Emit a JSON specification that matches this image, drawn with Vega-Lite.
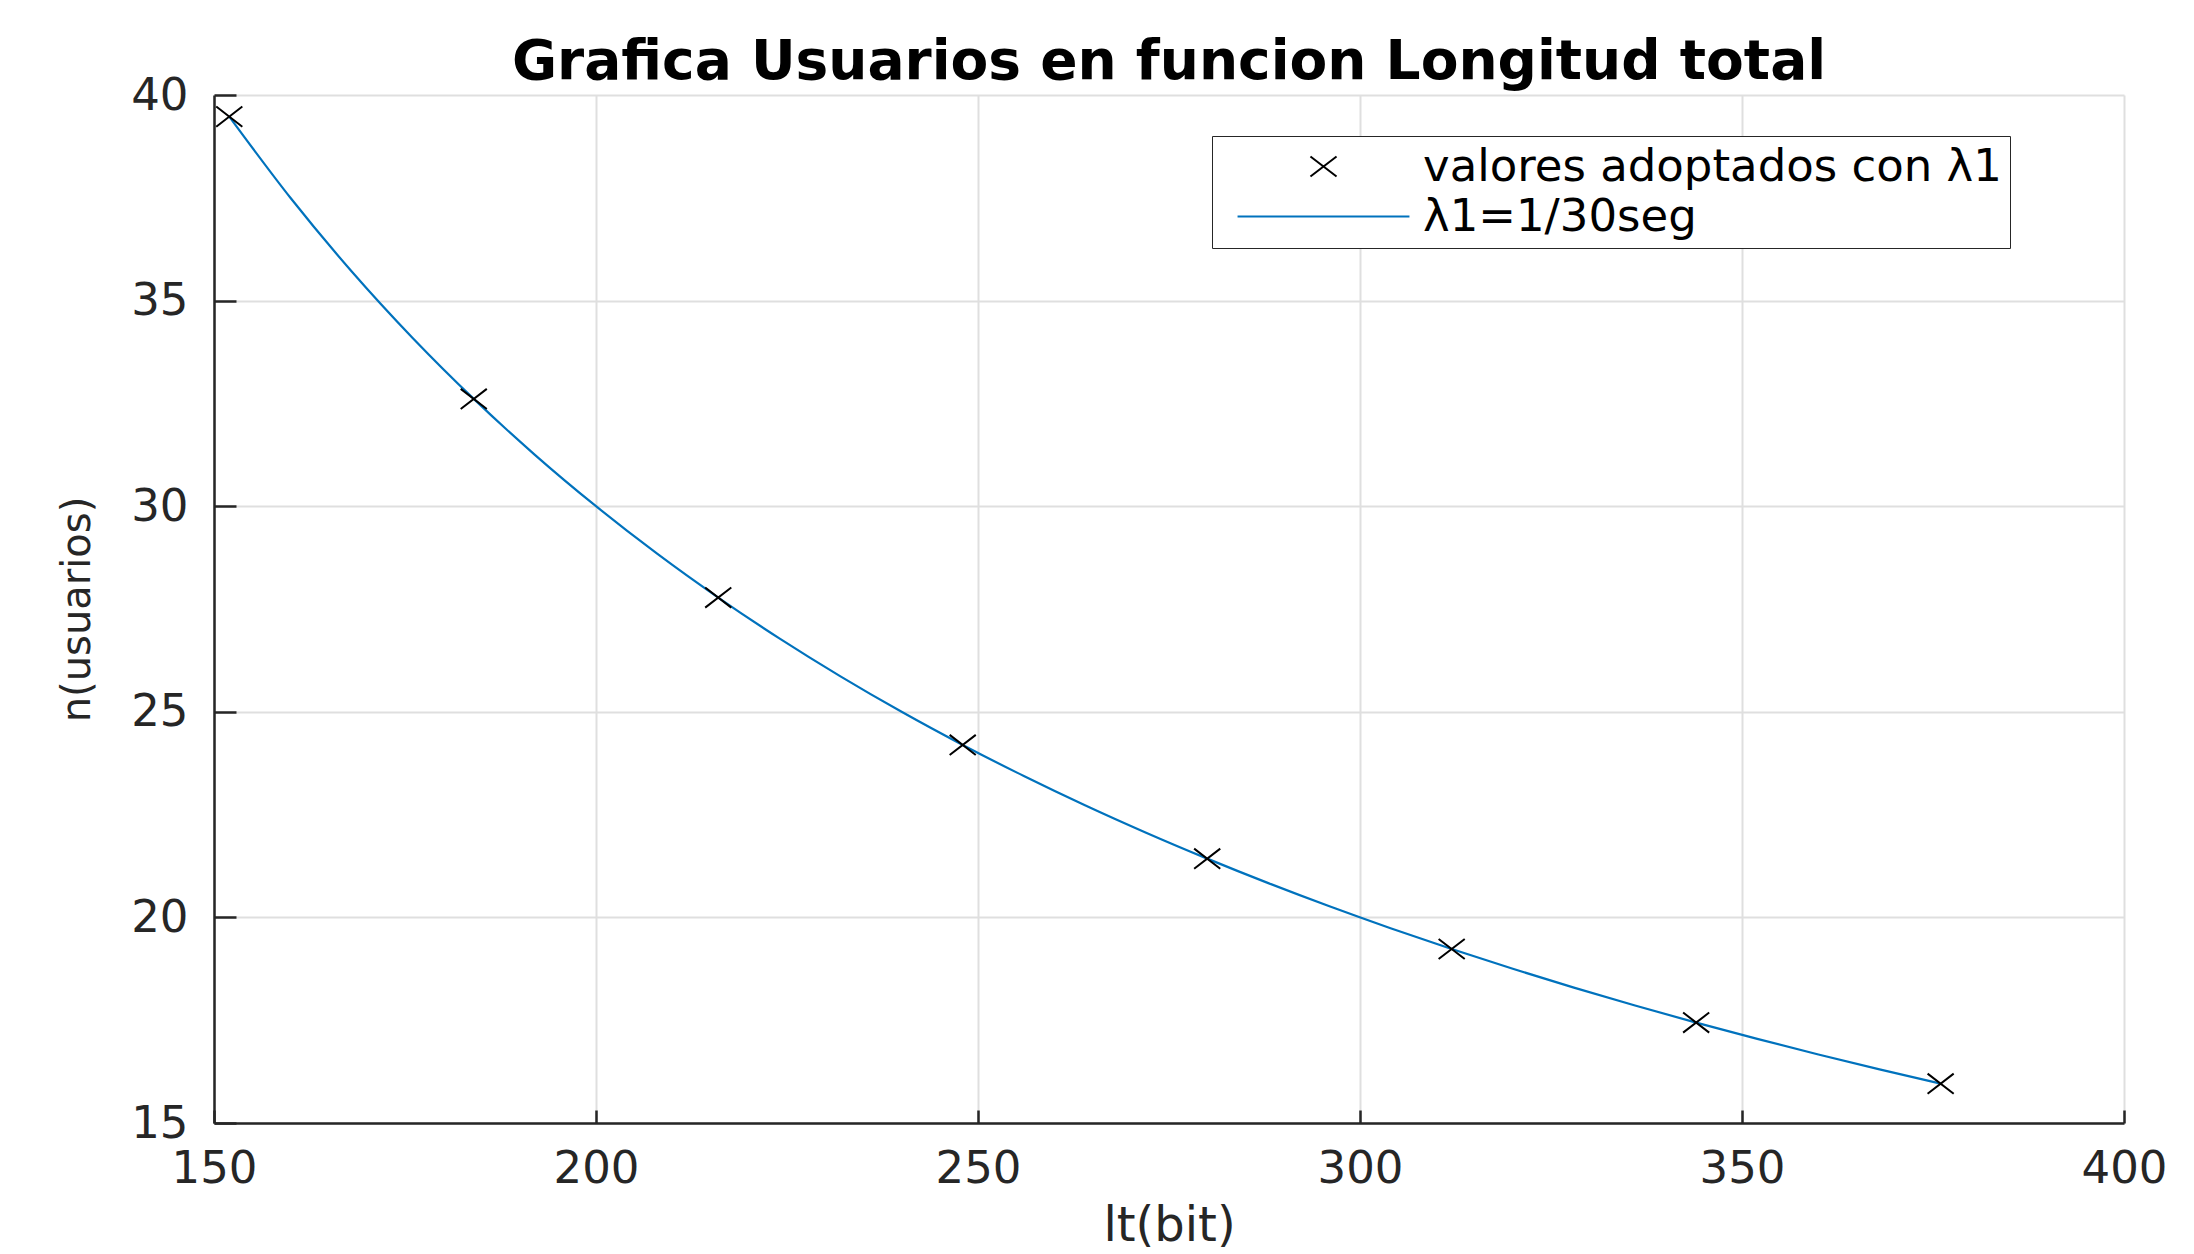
{
  "$schema": "https://vega.github.io/schema/vega-lite/v6.json",
  "width": 1910,
  "height": 1028,
  "autosize": {"type": "none"},
  "padding": {"left": 214, "top": 95, "right": 70, "bottom": 131},
  "background": "white",
  "title": {
    "text": "Grafica Usuarios en funcion Longitud total",
    "font": "DejaVu Sans",
    "fontSize": 55,
    "fontWeight": "bold",
    "color": "#000000",
    "anchor": "middle",
    "offset": -18
  },
  "data": {
    "values": [
      {"lt": 152, "n": 39.474, "serie": "λ1=1/30seg"},
      {"lt": 160, "n": 37.5, "serie": "λ1=1/30seg"},
      {"lt": 168, "n": 35.714, "serie": "λ1=1/30seg"},
      {"lt": 176, "n": 34.091, "serie": "λ1=1/30seg"},
      {"lt": 184, "n": 32.609, "serie": "λ1=1/30seg"},
      {"lt": 192, "n": 31.25, "serie": "λ1=1/30seg"},
      {"lt": 200, "n": 30.0, "serie": "λ1=1/30seg"},
      {"lt": 208, "n": 28.846, "serie": "λ1=1/30seg"},
      {"lt": 216, "n": 27.778, "serie": "λ1=1/30seg"},
      {"lt": 224, "n": 26.786, "serie": "λ1=1/30seg"},
      {"lt": 232, "n": 25.862, "serie": "λ1=1/30seg"},
      {"lt": 240, "n": 25.0, "serie": "λ1=1/30seg"},
      {"lt": 248, "n": 24.194, "serie": "λ1=1/30seg"},
      {"lt": 256, "n": 23.438, "serie": "λ1=1/30seg"},
      {"lt": 264, "n": 22.727, "serie": "λ1=1/30seg"},
      {"lt": 272, "n": 22.059, "serie": "λ1=1/30seg"},
      {"lt": 280, "n": 21.429, "serie": "λ1=1/30seg"},
      {"lt": 288, "n": 20.833, "serie": "λ1=1/30seg"},
      {"lt": 296, "n": 20.27, "serie": "λ1=1/30seg"},
      {"lt": 304, "n": 19.737, "serie": "λ1=1/30seg"},
      {"lt": 312, "n": 19.231, "serie": "λ1=1/30seg"},
      {"lt": 320, "n": 18.75, "serie": "λ1=1/30seg"},
      {"lt": 328, "n": 18.293, "serie": "λ1=1/30seg"},
      {"lt": 336, "n": 17.857, "serie": "λ1=1/30seg"},
      {"lt": 344, "n": 17.442, "serie": "λ1=1/30seg"},
      {"lt": 352, "n": 17.045, "serie": "λ1=1/30seg"},
      {"lt": 360, "n": 16.667, "serie": "λ1=1/30seg"},
      {"lt": 368, "n": 16.304, "serie": "λ1=1/30seg"},
      {"lt": 376, "n": 15.957, "serie": "λ1=1/30seg"},
      {"lt": 152, "n": 39.474, "serie": "valores adoptados con λ1"},
      {"lt": 184, "n": 32.609, "serie": "valores adoptados con λ1"},
      {"lt": 216, "n": 27.778, "serie": "valores adoptados con λ1"},
      {"lt": 248, "n": 24.194, "serie": "valores adoptados con λ1"},
      {"lt": 280, "n": 21.429, "serie": "valores adoptados con λ1"},
      {"lt": 312, "n": 19.231, "serie": "valores adoptados con λ1"},
      {"lt": 344, "n": 17.442, "serie": "valores adoptados con λ1"},
      {"lt": 376, "n": 15.957, "serie": "valores adoptados con λ1"}
    ]
  },
  "encoding": {
    "x": {
      "field": "lt",
      "type": "quantitative",
      "scale": {"domain": [150, 400], "nice": false, "zero": false},
      "axis": {
        "title": "lt(bit)",
        "values": [150, 200, 250, 300, 350, 400],
        "tickSize": -13,
        "labelPadding": 36,
        "titlePadding": 11,
        "titleFontSize": 48,
        "labelFlush": false
      }
    },
    "y": {
      "field": "n",
      "type": "quantitative",
      "scale": {"domain": [15, 40], "nice": false, "zero": false},
      "axis": {
        "title": "n(usuarios)",
        "values": [15, 20, 25, 30, 35, 40],
        "tickSize": -22,
        "labelPadding": 48,
        "titlePadding": 33,
        "titleFontSize": 40,
        "labelFlush": false
      }
    },
    "color": {
      "field": "serie",
      "type": "nominal",
      "scale": {
        "domain": ["valores adoptados con λ1", "λ1=1/30seg"],
        "range": ["#000000", "#0072BD"]
      },
      "legend": {
        "title": null,
        "orient": "none",
        "legendX": 998,
        "legendY": 41,
        "padding": 8,
        "rowPadding": 4,
        "symbolOffset": 81,
        "labelOffset": 77,
        "symbolSize": 900,
        "symbolStrokeWidth": 2,
        "symbolFillColor": "transparent",
        "labelFont": "DejaVu Sans",
        "labelFontSize": 45,
        "labelColor": "#000000",
        "labelLimit": 1000,
        "labelExpr": "datum.label + '\u00a0\u00a0'",
        "strokeColor": "#262626",
        "fillColor": "white",
        "cornerRadius": 0
      }
    },
    "shape": {
      "field": "serie",
      "type": "nominal",
      "scale": {
        "domain": ["valores adoptados con λ1", "λ1=1/30seg"],
        "range": ["M-0.87,-0.67L0.87,0.67M-0.87,0.67L0.87,-0.67", "M-5.73,0L5.73,0"]
      },
      "legend": null
    }
  },
  "layer": [
    {
      "transform": [{"filter": "datum.serie == 'λ1=1/30seg'"}],
      "mark": {"type": "line", "strokeWidth": 2.2, "interpolate": "monotone"}
    },
    {
      "transform": [{"filter": "datum.serie == 'valores adoptados con λ1'"}],
      "mark": {"type": "point", "filled": false, "size": 900, "strokeWidth": 2, "opacity": 1}
    }
  ],
  "config": {
    "view": {"stroke": null},
    "axis": {
      "domainColor": "#262626",
      "domainWidth": 2.5,
      "tickColor": "#262626",
      "tickWidth": 2.5,
      "gridColor": "#dfdfdf",
      "gridWidth": 2,
      "labelFont": "DejaVu Sans",
      "labelFontSize": 45,
      "labelColor": "#262626",
      "titleFont": "DejaVu Sans",
      "titleFontWeight": "normal",
      "titleColor": "#262626"
    }
  }
}
